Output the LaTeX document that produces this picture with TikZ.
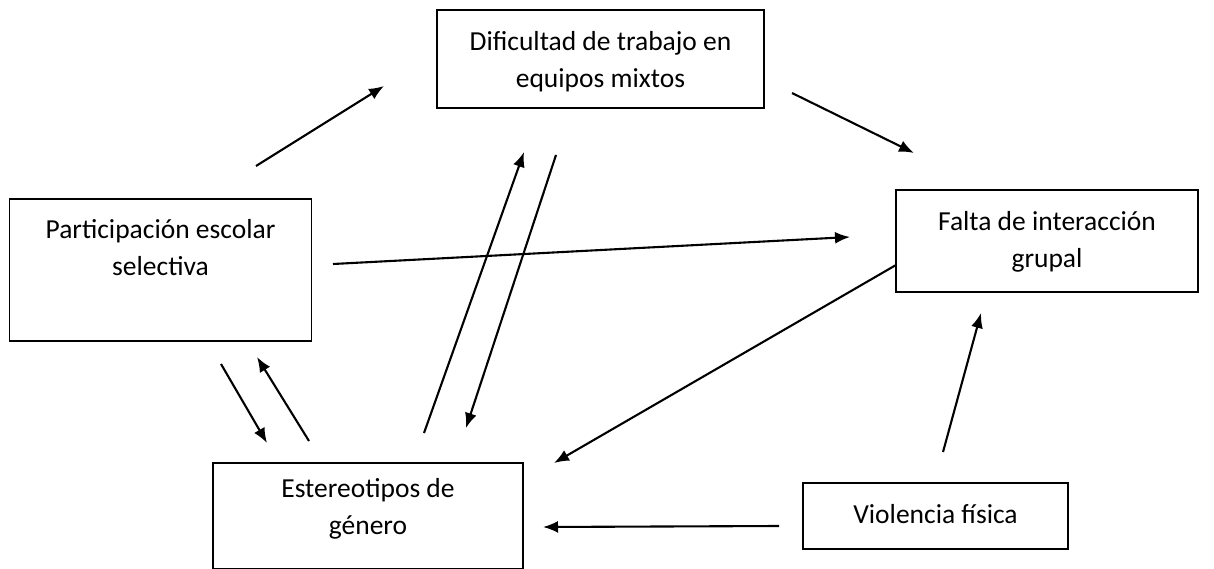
\documentclass[tikz,border=0pt]{standalone}
\usepackage{fontspec}
\setmainfont{Carlito}
\usetikzlibrary{arrows.meta}
\tikzset{
  boxnode/.style={draw, line width=1.6pt, rectangle, inner sep=0pt},
  txt/.style={align=center, font=\fontsize{27.5}{37}\selectfont, inner sep=0pt},
  arr/.style={line width=2.1pt, -{Latex[length=15pt,width=12pt]}}
}
\begin{document}
\begin{tikzpicture}[x=1pt,y=-1pt]
\useasboundingbox (0,0) rectangle (1214,569);
% boxes
\node[boxnode, minimum width=327pt, minimum height=98pt] (top) at (600.5,59) {};
\node[boxnode, minimum width=302pt, minimum height=142pt] (left) at (160.5,270) {};
\node[boxnode, minimum width=302pt, minimum height=102pt] (right) at (1047,241) {};
\node[boxnode, minimum width=310pt, minimum height=106pt] (est) at (368,516) {};
\node[boxnode, minimum width=265pt, minimum height=66pt] (vio) at (935.5,516) {};
% texts
\node[txt] (toptxt) at (600.5,62) {Dificultad de trabajo en\\equipos mixtos};
\node[txt] (lefttxt) at (160.5,248) {Participación escolar\\selectiva};
\node[txt] (righttxt) at (1047,242) {Falta de interacción\\grupal};
\node[txt] (esttxt) at (368,509) {Estereotipos de\\género};
\node[txt] (viotxt) at (935.5,514) {Violencia física};
% arrow end points
\coordinate (a1s) at (256,166);  \coordinate (a1e) at (384,86);
\coordinate (a2s) at (792,93);   \coordinate (a2e) at (914,153);
\coordinate (a3s) at (333,264);  \coordinate (a3e) at (850,237);
\coordinate (a4s) at (896,265);  \coordinate (a4e) at (554,463);
\coordinate (a5s) at (943,452);  \coordinate (a5e) at (981,313);
\coordinate (a6s) at (779,526);  \coordinate (a6e) at (543,527);
\coordinate (a7s) at (424,433);  \coordinate (a7e) at (524,152);
\coordinate (a8s) at (556,155);  \coordinate (a8e) at (466,428);
\coordinate (a9s) at (221,364);  \coordinate (a9e) at (267,443);
\coordinate (a10s) at (309,441); \coordinate (a10e) at (257,357);
\foreach \i in {1,...,10} \draw[arr] (a\i s) -- (a\i e);
\end{tikzpicture}
\end{document}
